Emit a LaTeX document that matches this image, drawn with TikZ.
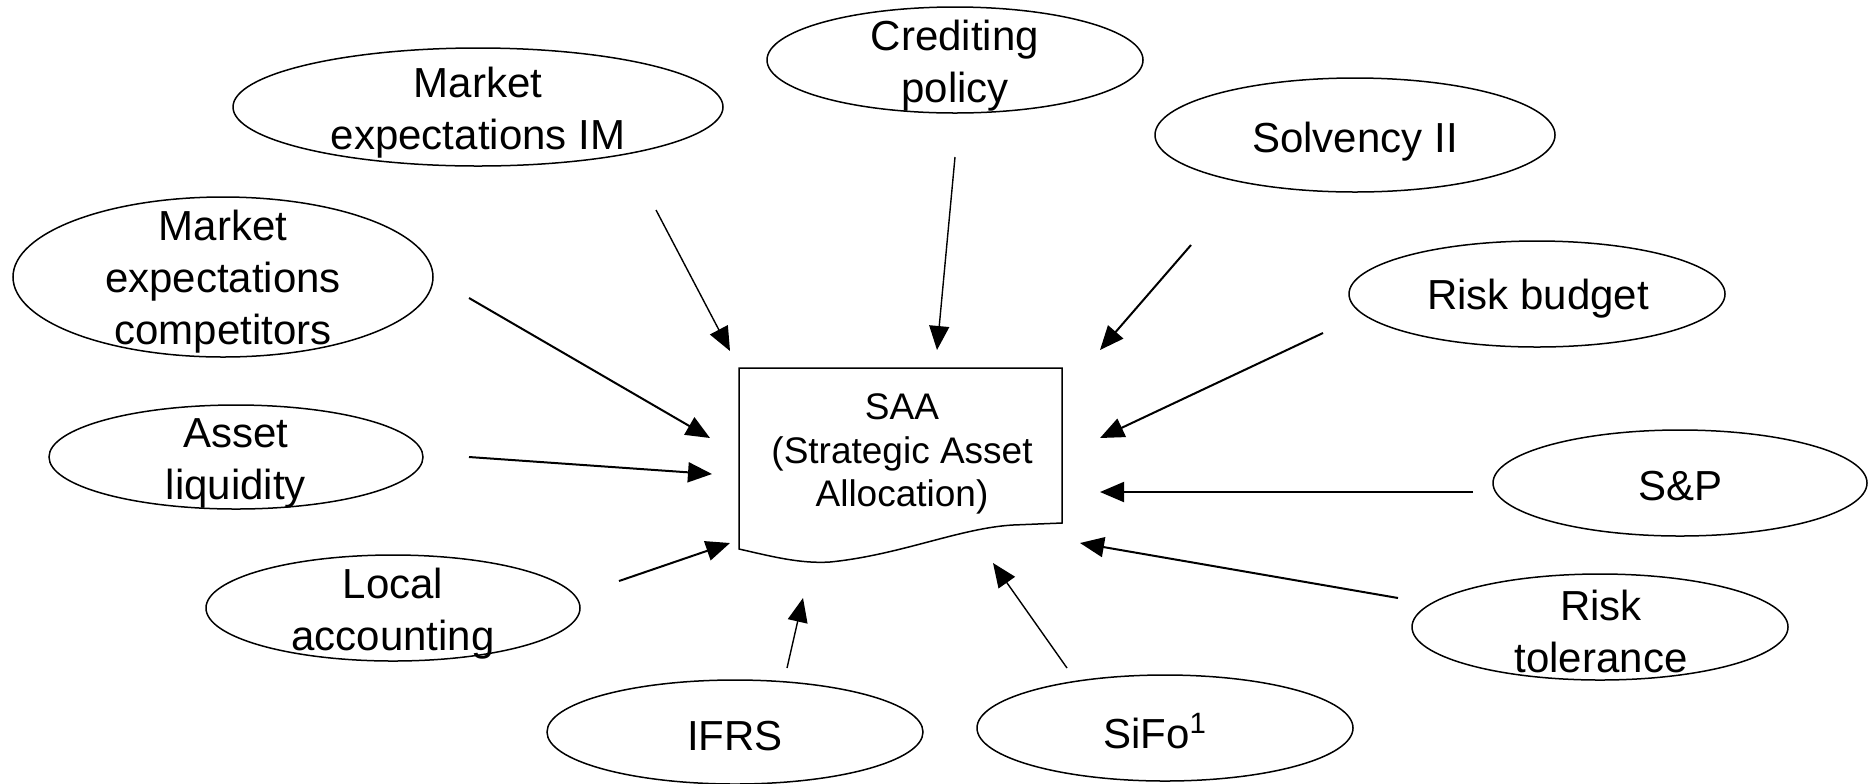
\documentclass[tikz,border=0pt]{standalone}
\usepackage{fontspec}
\setmainfont{Liberation Sans}
\usetikzlibrary{shapes.geometric, arrows.meta}
\begin{document}
\begin{tikzpicture}[x=0.5pt, y=-0.5pt,
  factor/.style={ellipse, draw, line width=0.75pt, inner sep=0pt},
  ftext/.style={align=center, inner sep=0pt, font=\fontsize{21}{26}\selectfont},
  saatext/.style={align=center, inner sep=0pt, font=\fontsize{18.5}{21.6}\selectfont},
  thinlink/.style={-{Triangle[length=12pt,width=10pt]}, line width=0.7pt},
  link/.style={-{Triangle[length=12pt,width=10pt]}, line width=1pt}]
\useasboundingbox (0,0) rectangle (1871,783);

% factor ellipses: minimum width/height given in pt equal rx/ry in px
\newcommand\factor[6]{%
  \node[factor, minimum width=#3pt, minimum height=#4pt] (#1) at #2 {};
  \node[ftext] (#1-t) at #5 {#6};}

\factor{im}{(478,107)}{245}{59}{(478,113)}{Market\\expectations IM}
\factor{cred}{(955,60)}{188}{53}{(955,66)}{Crediting\\policy}
\factor{solv}{(1355,135)}{200}{57}{(1355,142)}{Solvency II}
\factor{rb}{(1537,294)}{188}{53}{(1538,299)}{Risk budget}
\factor{comp}{(223,277)}{210}{80}{(223,282)}{Market\\expectations\\competitors}
\factor{liq}{(236,457)}{187}{52}{(236,463)}{Asset\\liquidity}
\factor{loc}{(393,608)}{187}{53}{(393,614)}{Local\\accounting}
\factor{ifrs}{(735,732)}{188}{52}{(735,736)}{IFRS}
\factor{sifo}{(1165,728)}{188}{53}{(1155,731)}{SiFo\textsuperscript{1}}
\factor{rt}{(1600,627)}{188}{53}{(1601,631)}{Risk\\tolerance}
\factor{sp}{(1680,483)}{187}{53}{(1680,486)}{S\&P}

% central document shape
\draw[line width=0.75pt] (739,368) -- (1062,368) -- (1062,523) -- (1013,525)
  .. controls (960,528) and (900,555) .. (830,562)
  .. controls (800,564) and (770,556) .. (739,549) -- cycle;
\node[saatext] (saa) at (902,454) {SAA\\(Strategic Asset\\Allocation)};

% arrow end points
\coordinate (im-s) at (656,210);   \coordinate (im-e) at (730,351);
\coordinate (cred-s) at (955,157); \coordinate (cred-e) at (937,350);
\coordinate (solv-s) at (1191,245);\coordinate (solv-e) at (1100,350);
\coordinate (rb-s) at (1323,333);  \coordinate (rb-e) at (1100,438);
\coordinate (sp-s) at (1473,492);  \coordinate (sp-e) at (1100,492);
\coordinate (rt-s) at (1398,598);  \coordinate (rt-e) at (1080,543);
\coordinate (sifo-s) at (1067,668);\coordinate (sifo-e) at (993,563);
\coordinate (ifrs-s) at (787,668); \coordinate (ifrs-e) at (803,598);
\coordinate (loc-s) at (619,581);  \coordinate (loc-e) at (730,543);
\coordinate (liq-s) at (469,457);  \coordinate (liq-e) at (712,474);
\coordinate (comp-s) at (469,298); \coordinate (comp-e) at (710,438);

\draw[thinlink] (im-s) -- (im-e);
\draw[thinlink] (cred-s) -- (cred-e);
\draw[link] (solv-s) -- (solv-e);
\draw[link] (rb-s) -- (rb-e);
\draw[link] (sp-s) -- (sp-e);
\draw[link] (rt-s) -- (rt-e);
\draw[thinlink] (sifo-s) -- (sifo-e);
\draw[thinlink] (ifrs-s) -- (ifrs-e);
\draw[link] (loc-s) -- (loc-e);
\draw[link] (liq-s) -- (liq-e);
\draw[link] (comp-s) -- (comp-e);
\end{tikzpicture}
\end{document}
